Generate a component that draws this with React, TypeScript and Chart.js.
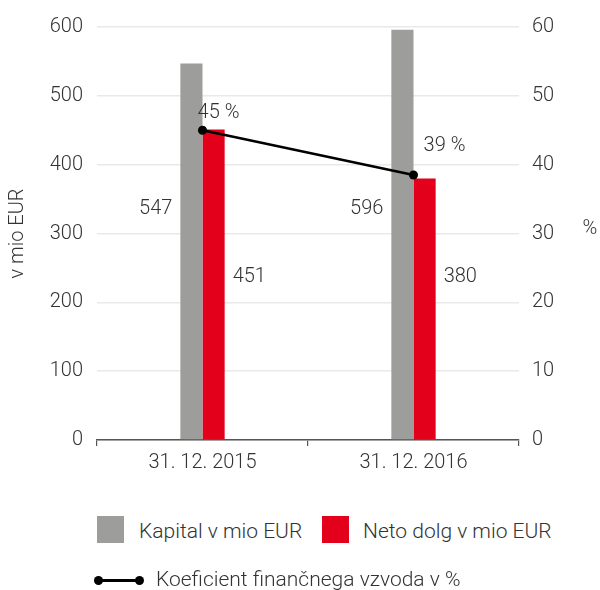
import React, { useEffect, useRef } from "react";
import { Chart, registerables } from "chart.js";

Chart.register(...registerables);

const categories = ["31. 12. 2015", "31. 12. 2016"];
const kapital = [547, 596];
const netoDolg = [451, 380];
const koeficient = [45, 38.5];
const koeficientLabels = ["45 %", "39 %"];
const leftTicks = [0, 100, 200, 300, 400, 500, 600];
const rightTicks = [0, 10, 20, 30, 40, 50, 60];

const FONT = "Roboto, 'Liberation Sans', Arial, sans-serif";
const FS = 20;
const TEXT = "#333333";
const GRAY = "#9d9d9c";
const RED = "#e2001a";

const labelPlugin = {
  id: "valueLabels",
  afterDatasetsDraw(chart: any) {
    const { ctx } = chart;
    const y = chart.scales.y;
    ctx.save();
    ctx.font = `300 ${FS}px ${FONT}`;
    ctx.fillStyle = TEXT;
    ctx.textBaseline = "middle";
    const m0 = chart.getDatasetMeta(0);
    const m1 = chart.getDatasetMeta(1);
    const m2 = chart.getDatasetMeta(2);
    m0.data.forEach((bar: any, i: number) => {
      ctx.textAlign = "right";
      ctx.fillText(String(kapital[i]), bar.x - bar.width / 2 - 8, y.getPixelForValue(335));
    });
    m1.data.forEach((bar: any, i: number) => {
      ctx.textAlign = "left";
      ctx.fillText(String(netoDolg[i]), bar.x + bar.width / 2 + 8, y.getPixelForValue(237));
    });
    const offs = [
      [16, -17],
      [31, -29],
    ];
    m2.data.forEach((pt: any, i: number) => {
      ctx.textAlign = "center";
      ctx.fillText(koeficientLabels[i], pt.x + offs[i][0], pt.y + offs[i][1]);
    });
    const ca = chart.chartArea;
    ctx.textAlign = "center";
    ctx.fillText("%", 590, (ca.top + ca.bottom) / 2 - 5);
    ctx.restore();
  },
};

export default function App() {
  const ref = useRef<HTMLCanvasElement | null>(null);
  useEffect(() => {
    if (!ref.current) return;
    const tickFont = { family: FONT, size: FS, weight: "300" };
    const chart = new Chart(ref.current, {
      type: "bar",
      data: {
        labels: categories,
        datasets: [
          {
            label: "Kapital v mio EUR",
            data: kapital,
            backgroundColor: GRAY,
            yAxisID: "y",
            order: 1,
            categoryPercentage: 0.21,
            barPercentage: 1,
          },
          {
            label: "Neto dolg v mio EUR",
            data: netoDolg,
            backgroundColor: RED,
            yAxisID: "y",
            order: 1,
            categoryPercentage: 0.21,
            barPercentage: 1,
          },
          {
            type: "line",
            label: "Koeficient finančnega vzvoda v %",
            data: koeficient,
            yAxisID: "y1",
            borderColor: "#000",
            backgroundColor: "#000",
            borderWidth: 2.5,
            pointRadius: 4.5,
            pointBackgroundColor: "#000",
            pointBorderWidth: 0,
            order: 0,
          } as any,
        ],
      },
      options: {
        animation: false,
        responsive: false,
        layout: { padding: { top: 27, left: 0, right: 0, bottom: 0 } },
        plugins: { legend: { display: false }, tooltip: { enabled: false } },
        scales: {
          x: {
            grid: {
              drawOnChartArea: false,
              drawTicks: true,
              tickLength: 6,
              color: "#555",
              lineWidth: 1.2,
            },
            border: { display: true, color: "#555", width: 1.5 },
            ticks: { color: TEXT, font: tickFont, padding: 5 },
            afterFit: (s: any) => {
              s.height = 60;
            },
          },
          y: {
            position: "left",
            min: 0,
            max: 600,
            afterBuildTicks: (s: any) => {
              s.ticks = leftTicks.map((v) => ({ value: v }));
            },
            grid: { color: "#e9e9e9", lineWidth: 1.5, drawTicks: false },
            border: { display: false },
            ticks: { color: TEXT, font: tickFont, padding: 14 },
            title: {
              display: true,
              text: "v mio EUR",
              color: TEXT,
              font: tickFont,
              padding: { top: 6, bottom: 0 },
            },
            afterFit: (s: any) => {
              s.width = 97;
            },
          },
          y1: {
            position: "right",
            min: 0,
            max: 60,
            afterBuildTicks: (s: any) => {
              s.ticks = rightTicks.map((v) => ({ value: v }));
            },
            grid: { drawOnChartArea: false, drawTicks: false },
            border: { display: false },
            ticks: { color: TEXT, font: tickFont, padding: 13 },
            afterFit: (s: any) => {
              s.width = 81;
            },
          },
        },
      } as any,
      plugins: [labelPlugin],
    });
    return () => chart.destroy();
  }, []);

  const txt: React.CSSProperties = {
    position: "absolute",
    fontFamily: FONT,
    fontWeight: 300,
    fontSize: 21,
    color: TEXT,
    lineHeight: "24px",
    whiteSpace: "nowrap",
  };

  return (
    <div style={{ position: "fixed", left: 0, top: 0, width: 600, height: 590, background: "#fff" }}>
      <canvas ref={ref} width={600} height={500} style={{ position: "absolute", left: 0, top: 0 }} />
      <div style={{ position: "absolute", left: 97, top: 516, width: 27, height: 27, background: GRAY }} />
      <div style={{ ...txt, left: 139, top: 519 }}>Kapital v mio EUR</div>
      <div style={{ position: "absolute", left: 322, top: 516, width: 27, height: 27, background: RED }} />
      <div style={{ ...txt, left: 363, top: 519 }}>Neto dolg v mio EUR</div>
      <div style={{ position: "absolute", left: 98, top: 579, width: 42, height: 2.5, background: "#000" }} />
      <div style={{ position: "absolute", left: 94, top: 576, width: 9, height: 9, borderRadius: "50%", background: "#000" }} />
      <div style={{ position: "absolute", left: 135, top: 576, width: 9, height: 9, borderRadius: "50%", background: "#000" }} />
      <div style={{ ...txt, left: 156, top: 567 }}>Koeficient finančnega vzvoda v %</div>
    </div>
  );
}
